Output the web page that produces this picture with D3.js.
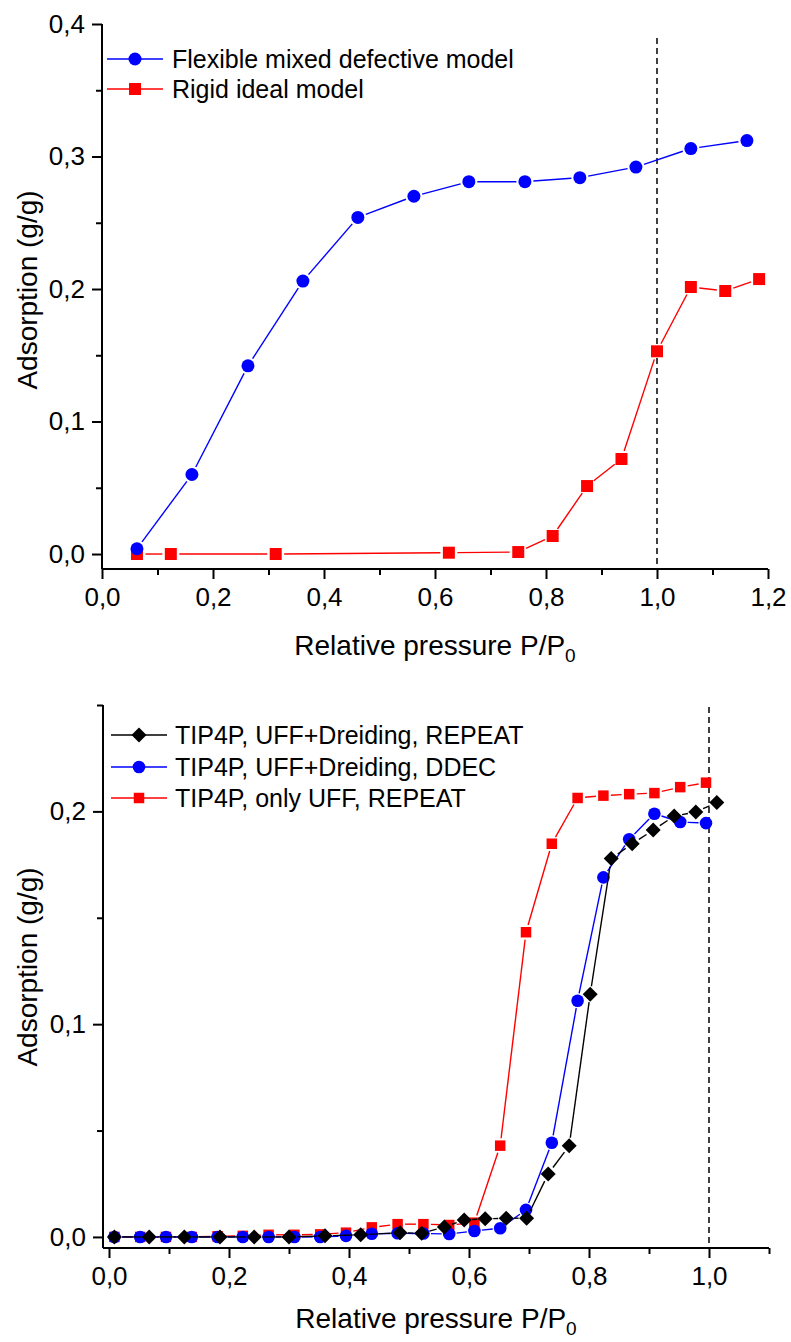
<!DOCTYPE html>
<html>
<head>
<meta charset="utf-8">
<script src="https://cdn.jsdelivr.net/npm/d3@7"></script>
<style>
html,body{margin:0;padding:0;background:#fff;}
svg{display:block;}
text{font-family:"Liberation Sans",Arial,sans-serif;fill:#000;}
</style>
</head>
<body>
<svg id="chart" width="791" height="1342"></svg>
<script>
// ---------- DATA: top chart ----------
const topFlexX = [0.063, 0.162, 0.263, 0.362, 0.461, 0.562, 0.661, 0.762, 0.861, 0.962, 1.061, 1.162];
const topFlexY = [0.004, 0.060, 0.142, 0.206, 0.254, 0.270, 0.281, 0.281, 0.284, 0.292, 0.306, 0.312];
const topRigidX = [0.063, 0.124, 0.313, 0.625, 0.750, 0.812, 0.874, 0.936, 1.000, 1.061, 1.123, 1.184];
const topRigidY = [0.000, 0.000, 0.000, 0.001, 0.0015, 0.0136, 0.0513, 0.0717, 0.153, 0.2015, 0.1985, 0.2075];
const topSeriesNames = ["Flexible mixed defective model", "Rigid ideal model"];
const topXTicks = [0, 0.2, 0.4, 0.6, 0.8, 1.0, 1.2];
const topXMinor = [0.1, 0.3, 0.5, 0.7, 0.9, 1.1];
const topYTicks = [0, 0.1, 0.2, 0.3, 0.4];
const topYMinor = [0.05, 0.15, 0.25, 0.35];

// ---------- DATA: bottom chart ----------
const botRepeatX = [0.009, 0.067, 0.1255, 0.185, 0.242, 0.300, 0.360, 0.4195, 0.485, 0.521, 0.559, 0.592, 0.627, 0.662, 0.696, 0.732, 0.767, 0.802, 0.837, 0.872, 0.907, 0.942, 0.978, 1.013];
const botRepeatY = [0.000, 0.000, 0.000, 0.000, 0.000, 0.000, 0.0005, 0.001, 0.002, 0.0017, 0.0047, 0.0080, 0.0085, 0.0088, 0.0088, 0.0296, 0.0429, 0.1141, 0.1778, 0.1848, 0.1912, 0.1978, 0.1997, 0.2042];
const botDdecX = [0.009, 0.052, 0.095, 0.138, 0.181, 0.223, 0.266, 0.309, 0.352, 0.395, 0.438, 0.481, 0.524, 0.567, 0.609, 0.652, 0.695, 0.738, 0.781, 0.824, 0.867, 0.909, 0.952, 0.995];
const botDdecY = [0.000, 0.000, 0.000, 0.000, 0.000, 0.000, 0.000, 0.000, 0.000, 0.0005, 0.0015, 0.0017, 0.0016, 0.0014, 0.0028, 0.0041, 0.0127, 0.0443, 0.111, 0.169, 0.1869, 0.1989, 0.195, 0.1945];
const botUffX = [0.009, 0.052, 0.095, 0.138, 0.181, 0.223, 0.266, 0.309, 0.352, 0.395, 0.438, 0.481, 0.524, 0.567, 0.609, 0.652, 0.695, 0.738, 0.781, 0.824, 0.867, 0.909, 0.952, 0.995];
const botUffY = [0.000, 0.000, 0.000, 0.000, 0.0003, 0.0005, 0.001, 0.001, 0.0012, 0.002, 0.0045, 0.006, 0.006, 0.0056, 0.0067, 0.0429, 0.1432, 0.1848, 0.2063, 0.2074, 0.2081, 0.2086, 0.2114, 0.2135];
const botSeriesNames = ["TIP4P, UFF+Dreiding, REPEAT", "TIP4P, UFF+Dreiding, DDEC", "TIP4P, only UFF, REPEAT"];
const botXTicks = [0, 0.2, 0.4, 0.6, 0.8, 1.0];
const botXMinor = [0.1, 0.3, 0.5, 0.7, 0.9, 1.1];
const botYTicks = [0, 0.1, 0.2];
const botYMinor = [0.05, 0.15, 0.25];

const refX = 1.0; // dashed reference line P/P0 = 1

// ---------- helpers ----------
const svg = d3.select("#chart");
const fmt = v => d3.format(".1f")(v).replace(".", ",");
const TICK_FONT = 26, TITLE_FONT = 28, LEGEND_FONT = 25;

function shape(type, s) {
  if (type === "circle") return d3.symbol().type(d3.symbolCircle).size(Math.PI * s * s)();
  if (type === "square") return d3.symbol().type(d3.symbolSquare).size(s * s)();
  // diamond: square rotated 45deg, s = half diagonal
  return `M0,${-s}L${s},0L0,${s}L${-s},0Z`;
}

function drawSeries(g, xs, ys, x, y, color, type, size, gap) {
  const pts = xs.map((v, i) => [x(v), y(ys[i])]);
  const segs = [];
  for (let i = 0; i < pts.length - 1; i++) {
    const [x1, y1] = pts[i], [x2, y2] = pts[i + 1];
    const dx = x2 - x1, dy = y2 - y1, L = Math.hypot(dx, dy);
    if (L > 2 * gap) {
      const ux = dx / L, uy = dy / L;
      segs.push([x1 + ux * gap, y1 + uy * gap, x2 - ux * gap, y2 - uy * gap]);
    }
  }
  g.append("g").selectAll("line").data(segs).join("line")
    .attr("x1", d => d[0]).attr("y1", d => d[1]).attr("x2", d => d[2]).attr("y2", d => d[3])
    .attr("stroke", color).attr("stroke-width", 1.4);
  g.append("g").selectAll("path").data(pts).join("path")
    .attr("d", shape(type, size))
    .attr("transform", d => `translate(${d[0]},${d[1]})`)
    .attr("fill", color);
}

function drawAxes(g, x, y, xt, xm, yt, ym) {
  const ax = g.append("g").attr("transform", `translate(0,${y.range()[0]})`);
  ax.call(d3.axisBottom(x).tickValues(xt).tickFormat(fmt).tickSize(10).tickPadding(9).tickSizeOuter(0));
  const axm = g.append("g").attr("transform", `translate(0,${y.range()[0]})`);
  axm.call(d3.axisBottom(x).tickValues(xm).tickFormat("").tickSize(6).tickSizeOuter(0));
  axm.select(".domain").remove();
  const ay = g.append("g").attr("transform", `translate(${x.range()[0]},0)`);
  ay.call(d3.axisLeft(y).tickValues(yt).tickFormat(fmt).tickSize(10).tickPadding(7).tickSizeOuter(0));
  const aym = g.append("g").attr("transform", `translate(${x.range()[0]},0)`);
  aym.call(d3.axisLeft(y).tickValues(ym).tickFormat("").tickSize(6).tickSizeOuter(0));
  aym.select(".domain").remove();
  [ax, axm, ay, aym].forEach(a => {
    a.selectAll("path,line").attr("stroke", "#000").attr("stroke-width", 2);
    a.selectAll("text").attr("font-size", TICK_FONT).attr("font-family", '"Liberation Sans",Arial,sans-serif').attr("fill", "#000");
  });
  ax.select(".domain").attr("d", `M${x.range()[0]},0H${x.range()[1]}`);
  ay.select(".domain").attr("d", `M0,${y.range()[0]}V${y.range()[1]}`);
}

function drawTitles(g, x, y, yTitleCenter, xBaseline) {
  const cx = (x.range()[0] + x.range()[1]) / 2;
  const t = g.append("text").attr("x", cx).attr("y", xBaseline).attr("text-anchor", "middle").attr("font-size", TITLE_FONT);
  t.append("tspan").text("Relative pressure P/P");
  t.append("tspan").text("0").attr("font-size", TITLE_FONT * 0.68).attr("dy", 7);
  g.append("text").attr("transform", `translate(37,${yTitleCenter}) rotate(-90)`)
    .attr("text-anchor", "middle").attr("font-size", TITLE_FONT).text("Adsorption (g/g)");
}

function drawRefLine(g, x, y, yTop) {
  g.append("line").attr("x1", x(refX)).attr("x2", x(refX)).attr("y1", yTop).attr("y2", y.range()[0])
    .attr("stroke", "#000").attr("stroke-width", 1.5).attr("stroke-dasharray", "6,4");
}

function drawLegend(g, items, x0, textX, rows) {
  items.forEach((it, i) => {
    const yy = rows[i];
    g.append("line").attr("x1", x0).attr("x2", x0 + 56).attr("y1", yy).attr("y2", yy)
      .attr("stroke", it.color).attr("stroke-width", 1.4);
    g.append("path").attr("d", shape(it.type, it.size)).attr("transform", `translate(${x0 + 28},${yy})`).attr("fill", it.color);
    g.append("text").attr("x", textX).attr("y", yy).attr("dy", "0.35em").attr("font-size", LEGEND_FONT).text(it.name);
  });
}

// ---------- TOP CHART ----------
{
  const g = svg.append("g");
  const x = d3.scaleLinear().domain([0, 1.2]).range([102, 768]);
  const y = d3.scaleLinear().domain([-0.0113, 0.4]).range([569, 24]);
  drawRefLine(g, x, y, 38);
  drawSeries(g, topRigidX, topRigidY, x, y, "#ff0000", "square", 12, 8.5);
  drawSeries(g, topFlexX, topFlexY, x, y, "#0000ff", "circle", 6.5, 8.5);
  drawAxes(g, x, y, topXTicks, topXMinor, topYTicks, topYMinor);
  drawTitles(g, x, y, 290, 655);
  drawLegend(g, [
    {name: topSeriesNames[0], color: "#0000ff", type: "circle", size: 6.5},
    {name: topSeriesNames[1], color: "#ff0000", type: "square", size: 12}
  ], 107, 172, [59, 89]);
}

// ---------- BOTTOM CHART ----------
{
  const g = svg.append("g");
  const x = d3.scaleLinear().domain([-0.01, 1.1]).range([103, 769]);
  const y = d3.scaleLinear().domain([-0.0052, 0.25]).range([1248, 705]);
  drawRefLine(g, x, y, 707);
  drawSeries(g, botUffX, botUffY, x, y, "#ff0000", "square", 10.5, 7.5);
  drawSeries(g, botDdecX, botDdecY, x, y, "#0000ff", "circle", 6.3, 7.5);
  drawSeries(g, botRepeatX, botRepeatY, x, y, "#000000", "diamond", 7.5, 8);
  drawAxes(g, x, y, botXTicks, botXMinor, botYTicks, botYMinor);
  drawTitles(g, x, y, 967, 1328);
  drawLegend(g, [
    {name: botSeriesNames[0], color: "#000000", type: "diamond", size: 7.5},
    {name: botSeriesNames[1], color: "#0000ff", type: "circle", size: 6.3},
    {name: botSeriesNames[2], color: "#ff0000", type: "square", size: 10.5}
  ], 111, 175, [735, 767, 798]);
}
</script>
</body>
</html>
